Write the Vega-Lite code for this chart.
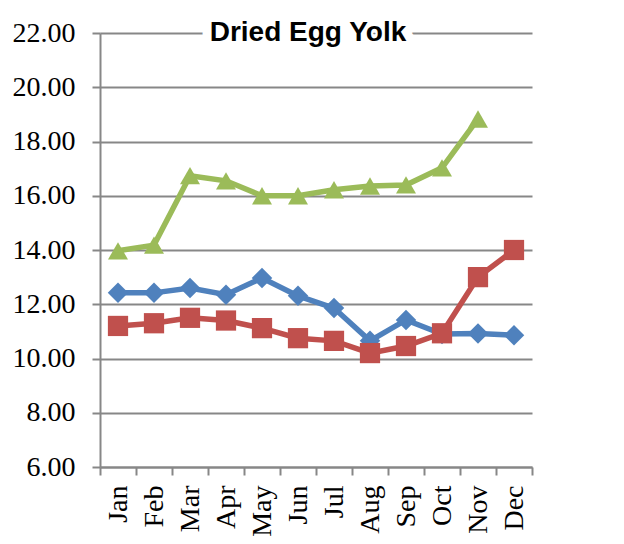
{
  "$schema": "https://vega.github.io/schema/vega-lite/v6.json",
  "autosize": {"type": "none"},
  "padding": {"left": 100, "top": 33, "right": 92, "bottom": 77},
  "width": 432,
  "height": 434,
  "background": "white",
  "config": {
    "view": {"stroke": null},
    "axis": {
      "labelFont": "Liberation Serif",
      "labelFontSize": 28,
      "labelColor": "#000000",
      "domainColor": "#878787",
      "domainWidth": 2,
      "tickColor": "#878787",
      "tickWidth": 2,
      "tickSize": 8,
      "gridColor": "#878787",
      "gridWidth": 2,
      "title": null
    }
  },
  "layer": [
    {
      "data": {"name": "main", "values": [
        {"month": "Jan", "series": "Series 1", "value": 12.42},
        {"month": "Feb", "series": "Series 1", "value": 12.42},
        {"month": "Mar", "series": "Series 1", "value": 12.6},
        {"month": "Apr", "series": "Series 1", "value": 12.35},
        {"month": "May", "series": "Series 1", "value": 12.97},
        {"month": "Jun", "series": "Series 1", "value": 12.31},
        {"month": "Jul", "series": "Series 1", "value": 11.86},
        {"month": "Aug", "series": "Series 1", "value": 10.65},
        {"month": "Sep", "series": "Series 1", "value": 11.42},
        {"month": "Oct", "series": "Series 1", "value": 10.9},
        {"month": "Nov", "series": "Series 1", "value": 10.92},
        {"month": "Dec", "series": "Series 1", "value": 10.86},
        {"month": "Jan", "series": "Series 2", "value": 11.2},
        {"month": "Feb", "series": "Series 2", "value": 11.3},
        {"month": "Mar", "series": "Series 2", "value": 11.5},
        {"month": "Apr", "series": "Series 2", "value": 11.4},
        {"month": "May", "series": "Series 2", "value": 11.12},
        {"month": "Jun", "series": "Series 2", "value": 10.75},
        {"month": "Jul", "series": "Series 2", "value": 10.65},
        {"month": "Aug", "series": "Series 2", "value": 10.2},
        {"month": "Sep", "series": "Series 2", "value": 10.46},
        {"month": "Oct", "series": "Series 2", "value": 10.93},
        {"month": "Nov", "series": "Series 2", "value": 13.0},
        {"month": "Dec", "series": "Series 2", "value": 14.0},
        {"month": "Jan", "series": "Series 3", "value": 13.97},
        {"month": "Feb", "series": "Series 3", "value": 14.18},
        {"month": "Mar", "series": "Series 3", "value": 16.74},
        {"month": "Apr", "series": "Series 3", "value": 16.55},
        {"month": "May", "series": "Series 3", "value": 16.0},
        {"month": "Jun", "series": "Series 3", "value": 16.0},
        {"month": "Jul", "series": "Series 3", "value": 16.22},
        {"month": "Aug", "series": "Series 3", "value": 16.36},
        {"month": "Sep", "series": "Series 3", "value": 16.4},
        {"month": "Oct", "series": "Series 3", "value": 17.03},
        {"month": "Nov", "series": "Series 3", "value": 18.83}
      ]},
      "layer": [
        {
          "mark": {"type": "line", "strokeWidth": 5.5},
          "encoding": {
            "x": {"field": "month", "type": "ordinal",
                  "sort": ["Jan","Feb","Mar","Apr","May","Jun","Jul","Aug","Sep","Oct","Nov","Dec"],
                  "scale": {"type": "band", "domain": ["Jan","Feb","Mar","Apr","May","Jun","Jul","Aug","Sep","Oct","Nov","Dec"], "paddingInner": 0, "paddingOuter": 0},
                  "axis": {"labelAngle": -90, "labelAlign": "right", "labelBaseline": "middle", "labelPadding": 10, "tickBand": "extent", "grid": false}},
            "y": {"field": "value", "type": "quantitative",
                  "scale": {"domain": [6, 22], "nice": false, "zero": false},
                  "axis": {"values": [6, 8, 10, 12, 14, 16, 18, 20, 22], "format": ".2f", "labelPadding": 17, "grid": true}},
            "color": {"field": "series", "type": "nominal",
                      "scale": {"domain": ["Series 1", "Series 2", "Series 3"], "range": ["#4F81BD", "#C0504D", "#9BBB59"]},
                      "legend": null}
          }
        },
        {
          "mark": {"type": "point", "filled": true, "opacity": 1},
          "encoding": {
            "x": {"field": "month", "type": "ordinal",
                  "sort": ["Jan","Feb","Mar","Apr","May","Jun","Jul","Aug","Sep","Oct","Nov","Dec"]},
            "y": {"field": "value", "type": "quantitative"},
            "color": {"field": "series", "type": "nominal", "legend": null},
            "shape": {"field": "series", "type": "nominal",
                      "scale": {"domain": ["Series 1", "Series 2", "Series 3"], "range": ["diamond", "square", "triangle-up"]},
                      "legend": null},
            "size": {"field": "series", "type": "nominal",
                     "scale": {"domain": ["Series 1", "Series 2", "Series 3"], "range": [420, 400, 500]},
                     "legend": null}
          }
        }
      ]
    },
    {
      "data": {"values": [{"t": "Dried Egg Yolk"}]},
      "mark": {"type": "text", "font": "Liberation Sans", "fontWeight": "bold", "fontSize": 28, "fill": "white", "stroke": "white", "strokeWidth": 18, "align": "center", "baseline": "middle", "dx": 10},
      "encoding": {
        "x": {"datum": "Jun", "type": "ordinal"},
        "y": {"datum": 22, "type": "quantitative"},
        "text": {"field": "t"}
      }
    },
    {
      "data": {"values": [{"t": "Dried Egg Yolk"}]},
      "mark": {"type": "text", "font": "Liberation Sans", "fontWeight": "bold", "fontSize": 28, "fill": "black", "align": "center", "baseline": "middle", "dx": 10},
      "encoding": {
        "x": {"datum": "Jun", "type": "ordinal"},
        "y": {"datum": 22, "type": "quantitative"},
        "text": {"field": "t"}
      }
    }
  ]
}
